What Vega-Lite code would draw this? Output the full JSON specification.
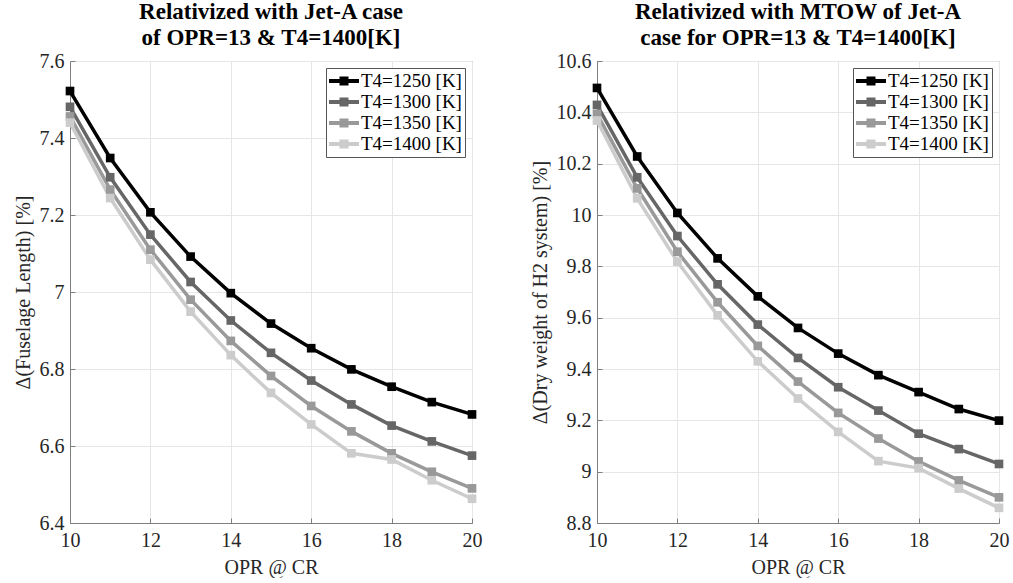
{
  "$schema": "https://vega.github.io/schema/vega-lite/v6.json",
  "background": "white",
  "padding": {"left": 12, "top": 0, "right": 0, "bottom": 0},
  "spacing": 46,
  "config": {
    "font": "Liberation Serif",
    "view": {"stroke": "#7f7f7f", "strokeWidth": 1},
    "axis": {
      "labelFont": "Liberation Serif", "labelFontSize": 20, "labelColor": "#262626",
      "titleFont": "Liberation Serif", "titleFontSize": 20, "titleFontWeight": "normal", "titleColor": "#262626",
      "gridColor": "#e6e6e6", "gridWidth": 1, "domainColor": "#7f7f7f",
      "tickColor": "#7f7f7f", "tickSize": -5, "labelPadding": 11, "labelFlush": false
    },
    "title": {"font": "Liberation Serif", "fontSize": 23, "fontWeight": "bold", "color": "#000000", "lineHeight": 26, "offset": 1},
    "legend": {
      "orient": "top-right", "offset": 7, "padding": 3,
      "strokeColor": "#555555", "fillColor": "white",
      "labelFont": "Liberation Serif", "labelFontSize": 19, "labelColor": "#000000",
      "symbolType": "M-1.5,-0.2H1.5V0.2H-1.5Z M-0.45,-0.45H0.45V0.45H-0.45Z",
      "symbolSize": 400, "symbolStrokeWidth": 0, "symbolOffset": 5, "labelOffset": 7, "rowPadding": 1, "title": null
    }
  },
  "datasets": {
    "left": [
      {"s": "T4=1250 [K]", "opr": 10, "v": 7.522}, {"s": "T4=1250 [K]", "opr": 11, "v": 7.348}, {"s": "T4=1250 [K]", "opr": 12, "v": 7.207},
      {"s": "T4=1250 [K]", "opr": 13, "v": 7.092}, {"s": "T4=1250 [K]", "opr": 14, "v": 6.997}, {"s": "T4=1250 [K]", "opr": 15, "v": 6.918},
      {"s": "T4=1250 [K]", "opr": 16, "v": 6.854}, {"s": "T4=1250 [K]", "opr": 17, "v": 6.799}, {"s": "T4=1250 [K]", "opr": 18, "v": 6.754},
      {"s": "T4=1250 [K]", "opr": 19, "v": 6.714}, {"s": "T4=1250 [K]", "opr": 20, "v": 6.682},
      {"s": "T4=1300 [K]", "opr": 10, "v": 7.481}, {"s": "T4=1300 [K]", "opr": 11, "v": 7.298}, {"s": "T4=1300 [K]", "opr": 12, "v": 7.149},
      {"s": "T4=1300 [K]", "opr": 13, "v": 7.026}, {"s": "T4=1300 [K]", "opr": 14, "v": 6.926}, {"s": "T4=1300 [K]", "opr": 15, "v": 6.842},
      {"s": "T4=1300 [K]", "opr": 16, "v": 6.770}, {"s": "T4=1300 [K]", "opr": 17, "v": 6.708}, {"s": "T4=1300 [K]", "opr": 18, "v": 6.653},
      {"s": "T4=1300 [K]", "opr": 19, "v": 6.612}, {"s": "T4=1300 [K]", "opr": 20, "v": 6.575},
      {"s": "T4=1350 [K]", "opr": 10, "v": 7.456}, {"s": "T4=1350 [K]", "opr": 11, "v": 7.266}, {"s": "T4=1350 [K]", "opr": 12, "v": 7.110},
      {"s": "T4=1350 [K]", "opr": 13, "v": 6.980}, {"s": "T4=1350 [K]", "opr": 14, "v": 6.873}, {"s": "T4=1350 [K]", "opr": 15, "v": 6.782},
      {"s": "T4=1350 [K]", "opr": 16, "v": 6.704}, {"s": "T4=1350 [K]", "opr": 17, "v": 6.638}, {"s": "T4=1350 [K]", "opr": 18, "v": 6.581},
      {"s": "T4=1350 [K]", "opr": 19, "v": 6.533}, {"s": "T4=1350 [K]", "opr": 20, "v": 6.490},
      {"s": "T4=1400 [K]", "opr": 10, "v": 7.440}, {"s": "T4=1400 [K]", "opr": 11, "v": 7.244}, {"s": "T4=1400 [K]", "opr": 12, "v": 7.084},
      {"s": "T4=1400 [K]", "opr": 13, "v": 6.949}, {"s": "T4=1400 [K]", "opr": 14, "v": 6.836}, {"s": "T4=1400 [K]", "opr": 15, "v": 6.738},
      {"s": "T4=1400 [K]", "opr": 16, "v": 6.656}, {"s": "T4=1400 [K]", "opr": 17, "v": 6.581}, {"s": "T4=1400 [K]", "opr": 18, "v": 6.565},
      {"s": "T4=1400 [K]", "opr": 19, "v": 6.511}, {"s": "T4=1400 [K]", "opr": 20, "v": 6.463}
    ],
    "right": [
      {"s": "T4=1250 [K]", "opr": 10, "v": 10.495}, {"s": "T4=1250 [K]", "opr": 11, "v": 10.228}, {"s": "T4=1250 [K]", "opr": 12, "v": 10.008},
      {"s": "T4=1250 [K]", "opr": 13, "v": 9.831}, {"s": "T4=1250 [K]", "opr": 14, "v": 9.683}, {"s": "T4=1250 [K]", "opr": 15, "v": 9.560},
      {"s": "T4=1250 [K]", "opr": 16, "v": 9.460}, {"s": "T4=1250 [K]", "opr": 17, "v": 9.376}, {"s": "T4=1250 [K]", "opr": 18, "v": 9.310},
      {"s": "T4=1250 [K]", "opr": 19, "v": 9.244}, {"s": "T4=1250 [K]", "opr": 20, "v": 9.199},
      {"s": "T4=1300 [K]", "opr": 10, "v": 10.429}, {"s": "T4=1300 [K]", "opr": 11, "v": 10.147}, {"s": "T4=1300 [K]", "opr": 12, "v": 9.918},
      {"s": "T4=1300 [K]", "opr": 13, "v": 9.730}, {"s": "T4=1300 [K]", "opr": 14, "v": 9.573}, {"s": "T4=1300 [K]", "opr": 15, "v": 9.443},
      {"s": "T4=1300 [K]", "opr": 16, "v": 9.329}, {"s": "T4=1300 [K]", "opr": 17, "v": 9.238}, {"s": "T4=1300 [K]", "opr": 18, "v": 9.148},
      {"s": "T4=1300 [K]", "opr": 19, "v": 9.088}, {"s": "T4=1300 [K]", "opr": 20, "v": 9.030},
      {"s": "T4=1350 [K]", "opr": 10, "v": 10.394}, {"s": "T4=1350 [K]", "opr": 11, "v": 10.104}, {"s": "T4=1350 [K]", "opr": 12, "v": 9.857},
      {"s": "T4=1350 [K]", "opr": 13, "v": 9.660}, {"s": "T4=1350 [K]", "opr": 14, "v": 9.490}, {"s": "T4=1350 [K]", "opr": 15, "v": 9.351},
      {"s": "T4=1350 [K]", "opr": 16, "v": 9.229}, {"s": "T4=1350 [K]", "opr": 17, "v": 9.129}, {"s": "T4=1350 [K]", "opr": 18, "v": 9.040},
      {"s": "T4=1350 [K]", "opr": 19, "v": 8.966}, {"s": "T4=1350 [K]", "opr": 20, "v": 8.900},
      {"s": "T4=1400 [K]", "opr": 10, "v": 10.368}, {"s": "T4=1400 [K]", "opr": 11, "v": 10.065}, {"s": "T4=1400 [K]", "opr": 12, "v": 9.818},
      {"s": "T4=1400 [K]", "opr": 13, "v": 9.609}, {"s": "T4=1400 [K]", "opr": 14, "v": 9.430}, {"s": "T4=1400 [K]", "opr": 15, "v": 9.285},
      {"s": "T4=1400 [K]", "opr": 16, "v": 9.155}, {"s": "T4=1400 [K]", "opr": 17, "v": 9.041}, {"s": "T4=1400 [K]", "opr": 18, "v": 9.014},
      {"s": "T4=1400 [K]", "opr": 19, "v": 8.934}, {"s": "T4=1400 [K]", "opr": 20, "v": 8.859}
    ]
  },
  "resolve": {"scale": {"color": "independent", "y": "independent"}, "legend": {"color": "independent"}},
  "hconcat": [
    {
      "width": 402, "height": 462,
      "title": {"text": ["Relativized with Jet-A case", "of OPR=13 & T4=1400[K]"]},
      "data": {"name": "left"},
      "encoding": {
        "x": {"field": "opr", "type": "quantitative", "scale": {"domain": [10, 20], "nice": false},
              "axis": {"values": [10, 12, 14, 16, 18, 20], "title": "OPR @ CR", "titlePadding": 7, "labelPadding": 12}},
        "y": {"field": "v", "type": "quantitative", "scale": {"domain": [6.4, 7.6], "nice": false, "zero": false},
              "axis": {"values": [6.4, 6.6, 6.8, 7.0, 7.2, 7.4, 7.6], "format": "~g", "title": "Δ(Fuselage Length) [%]", "titlePadding": 6}},
        "color": {"field": "s", "type": "nominal",
                  "scale": {"domain": ["T4=1250 [K]", "T4=1300 [K]", "T4=1350 [K]", "T4=1400 [K]"], "range": ["#000000", "#666666", "#999999", "#cccccc"]}}
      },
      "layer": [
        {"mark": {"type": "line", "strokeWidth": 3.5}},
        {"mark": {"type": "point", "shape": "square", "filled": true, "opacity": 1, "size": 75}}
      ]
    },
    {
      "width": 402, "height": 462,
      "title": {"text": ["Relativized with MTOW of Jet-A", "case for OPR=13 & T4=1400[K]"]},
      "data": {"name": "right"},
      "encoding": {
        "x": {"field": "opr", "type": "quantitative", "scale": {"domain": [10, 20], "nice": false},
              "axis": {"values": [10, 12, 14, 16, 18, 20], "title": "OPR @ CR", "titlePadding": 7, "labelPadding": 12}},
        "y": {"field": "v", "type": "quantitative", "scale": {"domain": [8.8, 10.6], "nice": false, "zero": false},
              "axis": {"values": [8.8, 9.0, 9.2, 9.4, 9.6, 9.8, 10.0, 10.2, 10.4, 10.6], "format": "~g", "title": "Δ(Dry weight of H2 system) [%]", "titlePadding": 6}},
        "color": {"field": "s", "type": "nominal",
                  "scale": {"domain": ["T4=1250 [K]", "T4=1300 [K]", "T4=1350 [K]", "T4=1400 [K]"], "range": ["#000000", "#666666", "#999999", "#cccccc"]}}
      },
      "layer": [
        {"mark": {"type": "line", "strokeWidth": 3.5}},
        {"mark": {"type": "point", "shape": "square", "filled": true, "opacity": 1, "size": 75}}
      ]
    }
  ]
}
